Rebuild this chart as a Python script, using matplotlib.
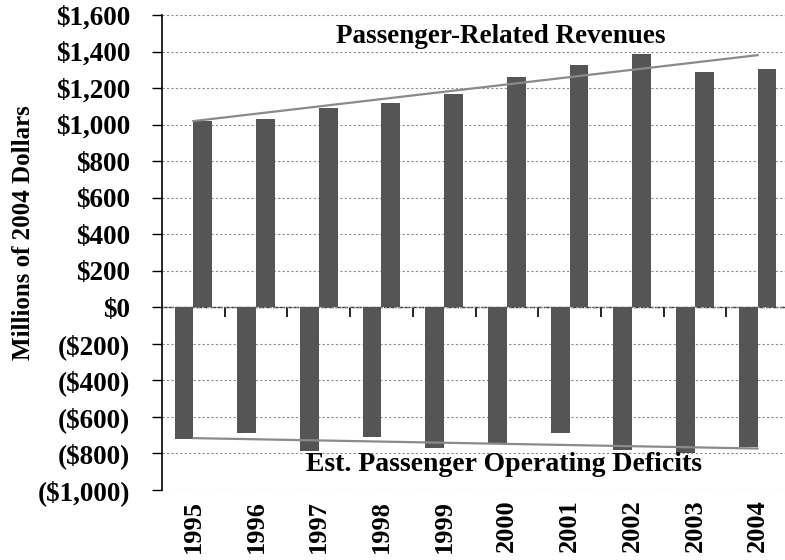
import numpy as np
import matplotlib
matplotlib.use("Agg")
import matplotlib.pyplot as plt

years = ["1995", "1996", "1997", "1998", "1999", "2000", "2001", "2002", "2003", "2004"]
revenues = [1020, 1030, 1090, 1120, 1165, 1258, 1329, 1389, 1290, 1307]
deficits = [-720, -687, -786, -710, -771, -742, -687, -781, -797, -764]
y_ticks = [1600, 1400, 1200, 1000, 800, 600, 400, 200, 0, -200, -400, -600, -800, -1000]
y_tick_labels = ["$1,600", "$1,400", "$1,200", "$1,000", "$800", "$600", "$400", "$200", "$0",
                 "($200)", "($400)", "($600)", "($800)", "($1,000)"]

plt.rcParams['font.family'] = ['Liberation Serif', 'DejaVu Serif']
plt.rcParams['font.weight'] = 'bold'

fig = plt.figure(figsize=(7.85, 5.6), dpi=100)
ax = fig.add_axes([162/785, 1-490/560, (789-162)/785, (490-15)/560])

n = len(years)
centers = np.arange(n) + 0.5
bw = 0.3
bar_col = '#555555'
ax.bar(centers - bw/2, deficits, width=bw, color=bar_col, zorder=3)
ax.bar(centers + bw/2, revenues, width=bw, color=bar_col, zorder=3)

# trend lines
idx = np.arange(n)
pr = np.polyfit(idx, revenues, 1)
pd_ = np.polyfit(idx, deficits, 1)
ax.plot(centers, np.polyval(pr, idx), color='#8a8a8a', lw=1.6, zorder=4)
ax.plot(centers, np.polyval(pd_, idx), color='#8a8a8a', lw=1.6, zorder=4)

ax.set_xlim(0, n)
ax.set_ylim(-1000, 1600)
ax.set_yticks(y_ticks)
ax.set_yticklabels(y_tick_labels, fontsize=19.5, fontweight='bold')
ax.tick_params(axis='y', direction='out', length=7, width=1, pad=16)

ax.set_xticks(centers)
ax.set_xticklabels(years, rotation=90, fontsize=19, fontweight='bold')
ax.tick_params(axis='x', length=0, pad=7)

for s in ['top', 'right', 'bottom']:
    ax.spines[s].set_visible(False)
ax.spines['left'].set_linewidth(1.2)

ax.grid(axis='y', color='#8c8c8c', linestyle=(0, (2, 2)), linewidth=0.8, zorder=0)
ax.set_axisbelow(True)

# zero axis with boundary ticks
sec = ax.secondary_xaxis(0, transform=ax.transData)
sec.set_xticks(np.arange(1, n + 1))
sec.set_xticklabels([])
sec.tick_params(direction='out', length=7, width=1.2, color='black')
sec.spines['bottom'].set_linestyle((0, (3, 2)))
sec.spines['bottom'].set_linewidth(1.0)
sec.spines['bottom'].set_color('#333333')

ax.set_ylabel("Millions of 2004 Dollars", fontsize=18, fontweight='bold')
ax.yaxis.set_label_coords(-0.203, 0.541)

ax.text(5.4, 1482, "Passenger-Related Revenues", ha='center', va='center',
        fontsize=19.5, fontweight='bold', zorder=5)
ax.text(5.45, -863, "Est. Passenger Operating Deficits", ha='center', va='center',
        fontsize=20, fontweight='bold', zorder=5)

fig.savefig("out.png", dpi=100)
